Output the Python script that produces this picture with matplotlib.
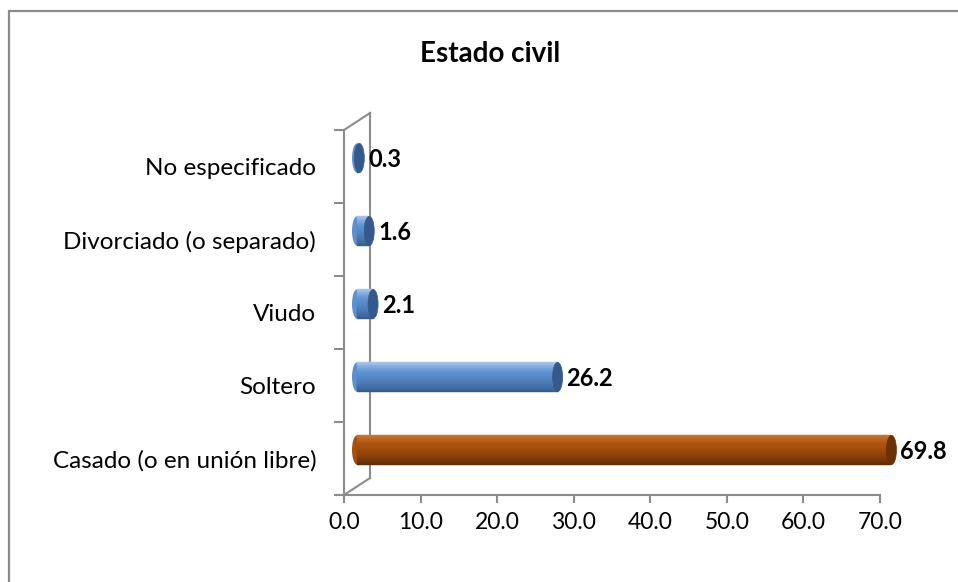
import matplotlib.pyplot as plt
import matplotlib.transforms as mtransforms
from matplotlib.patches import Ellipse, Rectangle
from matplotlib.colors import to_rgb
import numpy as np

categories = ["Casado (o en unión libre)", "Soltero", "Viudo",
              "Divorciado (o separado)", "No especificado"]
values = [69.8, 26.2, 2.1, 1.6, 0.3]
xticks = [0, 10, 20, 30, 40, 50, 60, 70]
title = "Estado civil"

# colours: (top, middle, bottom, cap)
blue = ("#a9c6ec", "#5b8fd0", "#34598a", "#35598a")
orange = ("#cc7432", "#a9500d", "#5a2804", "#6a3105")
bar_colors = [orange, blue, blue, blue, blue]

plt.rcParams['font.family'] = ['Lato', 'DejaVu Sans']

fig = plt.figure(figsize=(9.58, 5.82), dpi=100)
fig.patches.append(Rectangle((9 / 958, -0.1), 2, 1.1 - 11 / 582, transform=fig.transFigure,
                             fill=False, edgecolor="#8a8a8a", linewidth=1.6))

ax = fig.add_axes([344 / 958, 87 / 582, 536 / 958, 365 / 582])
ax.set_xlim(0, 70)
ax.set_ylim(-0.5, 4.5)
ax.patch.set_visible(False)

grey = "#8c8c8c"
depth = (26, 17)


def shifted(fx, fy):
    return ax.transData + mtransforms.ScaledTranslation(fx * depth[0] / 100,
                                                         fy * depth[1] / 100,
                                                         fig.dpi_scale_trans)


back = shifted(1, 1)
mid = shifted(0.5, 0.5)

# 3d frame: back wall edge and the two diagonals (behind the bars)
ax.plot([0, 0], [-0.5, 4.5], color=grey, lw=1.5, transform=back, clip_on=False, zorder=0.5)
inv = ax.transData.inverted()
for yy in (-0.5, 4.5):
    p1 = inv.transform(back.transform((0, yy)))
    ax.plot([0, p1[0]], [yy, p1[1]], color=grey, lw=1.5, clip_on=False, zorder=0.5)

for s in ("top", "right"):
    ax.spines[s].set_visible(False)
for s in ("left", "bottom"):
    ax.spines[s].set_color(grey)
    ax.spines[s].set_linewidth(1.5)

# cylinders
h = 0.2
cap_w = 10 / (536 / 70)
nstrip = 40
for i, (v, col) in enumerate(zip(values, bar_colors)):
    top, midc, bot, capc = col
    ax.add_patch(Ellipse((0, i), cap_w, 2 * h, facecolor=midc, edgecolor="none",
                         transform=mid, clip_on=False, zorder=1))
    edges = np.linspace(i - h, i + h, nstrip + 1)
    ct, cm, cb = np.array(to_rgb(top)), np.array(to_rgb(midc)), np.array(to_rgb(bot))
    for k in range(nstrip):
        t = (k + 0.5) / nstrip  # 0 bottom -> 1 top
        if t > 0.62:
            c = cm + (ct - cm) * ((t - 0.62) / 0.38) ** 1.5
        else:
            c = cb + (cm - cb) * (t / 0.62) ** 0.7
        ax.add_patch(Rectangle((0, edges[k]), v, edges[k + 1] - edges[k],
                               facecolor=c, edgecolor=c, lw=0.3,
                               transform=mid, clip_on=False, zorder=1))
    ax.add_patch(Ellipse((v, i), cap_w, 2 * h, facecolor=capc, edgecolor=capc,
                         lw=0.5, transform=mid, clip_on=False, zorder=1))
    lab_t = ax.transData + mtransforms.ScaledTranslation(22 / 100, 7 / 100, fig.dpi_scale_trans)
    ax.text(v, i, f"{v:.1f}", ha="left", va="center", fontsize=17,
            fontweight="bold", color="black", transform=lab_t)

ax.set_xticks(xticks)
ax.set_xticklabels([f"{t:.1f}" for t in xticks], fontsize=16.5)
ax.set_yticks(np.arange(len(categories)))
ax.set_yticklabels(categories, fontsize=17.5)
ax.set_yticks(np.arange(-0.5, len(categories), 1), minor=True)
ax.tick_params(axis="y", which="major", length=0, pad=20)
ax.tick_params(axis="y", which="minor", length=7, width=1.5, color=grey, direction="out")
ax.tick_params(axis="x", length=6, width=1.5, color=grey, direction="out", pad=6)

fig.text(490 / 958, 1 - 54 / 582, title, ha="center", va="center",
         fontsize=20, fontweight="bold")

fig.savefig("out.png", dpi=100)
